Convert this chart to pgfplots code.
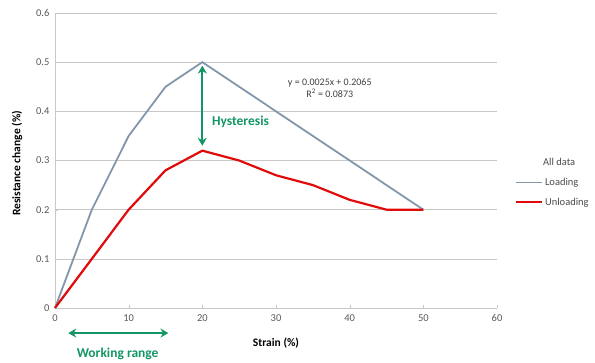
\documentclass[border=0pt]{standalone}
\usepackage{pgfplots}
\pgfplotsset{compat=1.18}
\usetikzlibrary{arrows.meta}
\usepackage{fontspec}
\setmainfont{Carlito}
\definecolor{loadc}{RGB}{130,150,172}
\definecolor{unloadc}{RGB}{225,10,10}
\definecolor{annc}{RGB}{20,150,100}
\definecolor{gridc}{RGB}{200,200,200}
\begin{document}
\begin{tikzpicture}
\useasboundingbox (-55pt,-54pt) rectangle (540pt,308pt);
\begin{axis}[
  at={(0pt,0pt)}, anchor=south west,
  scale only axis, width=442pt, height=295pt,
  xmin=0, xmax=60, ymin=0, ymax=0.6,
  xtick={0,10,...,60}, ytick={0,0.1,...,0.6},
  yticklabels={0,0.1,0.2,0.3,0.4,0.5,0.6},
  /pgf/number format/assume math mode=true,
  ymajorgrids, grid style={gridc, line width=0.6pt},
  axis x line*=bottom, axis y line*=left,
  axis line style={gridc, line width=0.8pt, -},
  tick style={gridc}, major tick length=3pt,
  xtick pos=bottom, ytick pos=left,
  tick label style={font=\fontsize{10.5}{12}\selectfont, text=black!65},
  xticklabel style={yshift=-3pt},
  yticklabel style={xshift=-2pt},
  xlabel={\textbf{Strain (\%)}}, ylabel={\textbf{Resistance change (\%)}},
  xlabel style={font=\fontsize{11.5}{13}\selectfont, at={(axis description cs:0.5,0)}, anchor=center, yshift=-35pt},
  ylabel style={font=\fontsize{11.5}{13}\selectfont, at={(axis description cs:-0.086,0.49)}, anchor=center},
  clip=false,
  legend style={draw=none, fill=none, at={(1.04,0.515)}, anchor=north west,
    font=\fontsize{10.5}{12}\selectfont, row sep=7pt, text=black!70, inner sep=0pt},
  legend cell align=left,
  legend image code/.code={\draw[#1] (0pt,0pt) -- (26pt,0pt);},
]
\addlegendimage{empty legend}
\addlegendentry{\hspace{-2pt}All data}
\addplot[loadc, line width=1.8pt] coordinates {(0,0) (5,0.2) (10,0.35) (15,0.45) (20,0.5) (50,0.2)};
\addlegendentry{Loading}
\addplot[unloadc, line width=2.2pt, line join=round] coordinates {(0,0) (5,0.1) (10,0.2) (15,0.28) (20,0.32) (25,0.3) (30,0.27) (35,0.25) (40,0.22) (45,0.2) (50,0.2)};
\addlegendentry{Unloading}
\draw[annc, line width=1.8pt, {Stealth[length=8pt,width=9pt]}-{Stealth[length=8pt,width=9pt]}] (axis cs:20,0.493) -- (axis cs:20,0.33);
\node[annc, font=\bfseries\fontsize{13.5}{15}\selectfont, anchor=west, inner sep=0pt] at (axis cs:21.3,0.378) {Hysteresis};
\node[font=\fontsize{10}{12}\selectfont, text=black!75, align=center, inner sep=0pt] at (axis cs:37.3,0.448) {y = 0.0025x + 0.2065\\R\textsuperscript{2} = 0.0873};
\draw[annc, line width=1.8pt, {Stealth[length=8pt,width=9pt]}-{Stealth[length=8pt,width=9pt]}] (axis cs:1.8,-0.051) -- (axis cs:15.4,-0.051);
\node[annc, font=\bfseries\fontsize{13.5}{15}\selectfont] at (axis cs:8.5,-0.093) {Working range};
\end{axis}
\end{tikzpicture}
\end{document}
